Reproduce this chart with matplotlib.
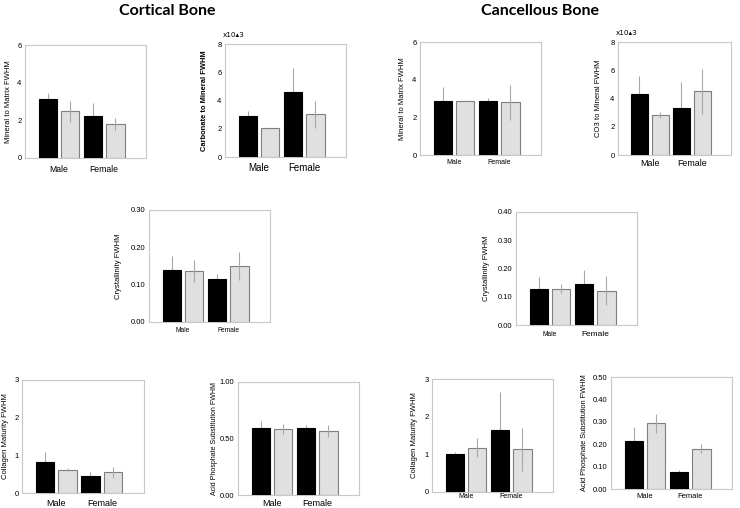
import matplotlib
matplotlib.use("Agg")
import matplotlib.pyplot as plt
import numpy as np

plt.rcParams['font.family'] = ['Liberation Sans', 'DejaVu Sans']

groups = ["Male", "Female"]

# values: [male-black, male-grey, female-black, female-grey]
cort_mm = [3.15, 2.48, 2.25, 1.80]
cort_mm_err = [0.28, 0.57, 0.65, 0.32]
cort_cm = [2.89, 2.03, 4.57, 3.03]
cort_cm_err = [0.35, 0.02, 1.70, 0.96]
canc_mm = [2.88, 2.87, 2.85, 2.80]
canc_mm_err = [0.75, 0.05, 0.19, 0.92]
canc_co3 = [4.31, 2.82, 3.36, 4.52]
canc_co3_err = [1.30, 0.22, 1.78, 1.60]
cort_cryst = [0.139, 0.137, 0.114, 0.150]
cort_cryst_err = [0.039, 0.029, 0.015, 0.038]
canc_cryst = [0.126, 0.129, 0.144, 0.121]
canc_cryst_err = [0.044, 0.016, 0.049, 0.051]
cort_coll = [0.825, 0.62, 0.46, 0.55]
cort_coll_err = [0.27, 0.045, 0.09, 0.14]
cort_acid = [0.593, 0.585, 0.596, 0.567]
cort_acid_err = [0.066, 0.043, 0.021, 0.053]
canc_coll = [1.006, 1.175, 1.656, 1.13]
canc_coll_err = [0.05, 0.25, 1.01, 0.56]
canc_acid = [0.216, 0.293, 0.078, 0.180]
canc_acid_err = [0.061, 0.041, 0.008, 0.021]

W, H = 740, 508
fig = plt.figure(figsize=(W / 100, H / 100), dpi=100)

BLACK = "#000000"
GREY = "#e0e0e0"
GREY_EDGE = "#7f7f7f"
ERR = "#a8a8a8"
SPINE = "#c8c8c8"


def panel(box, vals, errs, ylim, yticks, fmt, ylabel, ylab_off, lab_fs,
          lab_pad, male_fs=None, female_fs=None, bold=False, mult=None,
          ylab_fs=5.5):
    l, t, r, b = box
    ax = fig.add_axes([l / W, 1 - b / H, (r - l) / W, (b - t) / H])
    x = np.arange(4)
    colors = [BLACK, GREY, BLACK, GREY]
    edges = [BLACK, GREY_EDGE, BLACK, GREY_EDGE]
    for i in range(4):
        zb = 3 if colors[i] == BLACK else 1
        ax.bar(x[i], vals[i], width=0.8, color=colors[i], edgecolor=edges[i],
               linewidth=0.8, zorder=zb)
        ax.errorbar(x[i], vals[i], yerr=errs[i], fmt='none', ecolor=ERR,
                    elinewidth=0.8, capsize=0, zorder=2)
    ax.set_xlim(-1.0, 4.35)
    ax.set_ylim(*ylim)
    ax.set_yticks(yticks)
    ax.set_yticklabels([fmt.format(v) for v in yticks], fontsize=5.5)
    ax.set_xticks([])
    for s in ax.spines.values():
        s.set_color(SPINE)
        s.set_linewidth(0.8)
    ax.tick_params(axis='y', length=0, pad=2.5)
    ax.set_ylabel(ylabel, fontsize=ylab_fs,
                  fontweight='bold' if bold else 'normal')
    ax.yaxis.label.set_va('center')
    ax.yaxis.set_label_coords(-ylab_off / (r - l), 0.5)
    mf = male_fs if male_fs else lab_fs
    ff = female_fs if female_fs else lab_fs
    ybot = -lab_pad / (b - t)
    ax.text(0.5, ybot, groups[0], transform=ax.get_xaxis_transform(),
            ha='center', va='center', fontsize=mf)
    ax.text(2.5, ybot, groups[1], transform=ax.get_xaxis_transform(),
            ha='center', va='center', fontsize=ff)
    if mult:
        ax.text(-0.02, 1.0 + 9 / (b - t), mult, transform=ax.transAxes,
                ha='left', va='center', fontsize=5.2,
                family=['DejaVu Sans'])
    return ax


panel((25, 45, 146, 158), cort_mm, cort_mm_err, (0, 6), [0, 2, 4, 6], "{:.0f}",
      "Mineral to Matrix FWHM", 16, 6.2, 11)
panel((225, 44, 346, 157), cort_cm, cort_cm_err, (0, 8), [0, 2, 4, 6, 8], "{:.0f}",
      "Carbonate to Mineral FWHM", 21, 7.0, 11, bold=True, mult="x10\u25b43",
      ylab_fs=5.4)
panel((420, 42, 541, 155), canc_mm, canc_mm_err, (0, 6), [0, 2, 4, 6], "{:.0f}",
      "Mineral to Matrix FWHM", 18, 5.0, 7)
panel((618, 42, 731, 155), canc_co3, canc_co3_err, (0, 8), [0, 2, 4, 6, 8], "{:.0f}",
      "CO3 to Mineral FWHM", 20, 6.4, 8, mult="x10\u25b43")
panel((149, 210, 270, 322), cort_cryst, cort_cryst_err, (0, 0.30),
      [0, 0.1, 0.2, 0.3], "{:.2f}", "Crystallinity FWHM", 30, 4.8, 9)
panel((516, 212, 637, 325), canc_cryst, canc_cryst_err, (0, 0.40),
      [0, 0.1, 0.2, 0.3, 0.4], "{:.2f}", "Crystallinity FWHM", 29, 5.0, 9,
      male_fs=4.8, female_fs=6.0)
panel((22, 380, 144, 493), cort_coll, cort_coll_err, (0, 3), [0, 1, 2, 3], "{:.0f}",
      "Collagen Maturity FWHM", 16, 6.5, 10)
panel((238, 382, 359, 495), cort_acid, cort_acid_err, (0, 1.0), [0, 0.5, 1.0],
      "{:.2f}", "Acid Phosphate Substitution FWHM", 23, 6.5, 9, ylab_fs=5.0)
panel((432, 379, 553, 492), canc_coll, canc_coll_err, (0, 3), [0, 1, 2, 3], "{:.0f}",
      "Collagen Maturity FWHM", 18, 5.0, 5)
panel((611, 377, 732, 489), canc_acid, canc_acid_err, (0, 0.5),
      [0, 0.1, 0.2, 0.3, 0.4, 0.5], "{:.2f}", "Acid Phosphate Substitution FWHM",
      27, 5.5, 8, ylab_fs=5.3)

fig.text(167 / W, 1 - 11 / H, "Cortical Bone", ha='center', va='center',
         fontsize=11.5, fontweight='bold', family=['Lato', 'DejaVu Sans'])
fig.text(540 / W, 1 - 11 / H, "Cancellous Bone", ha='center', va='center',
         fontsize=11.5, fontweight='bold', family=['Lato', 'DejaVu Sans'])

fig.savefig("out.png", dpi=100)
